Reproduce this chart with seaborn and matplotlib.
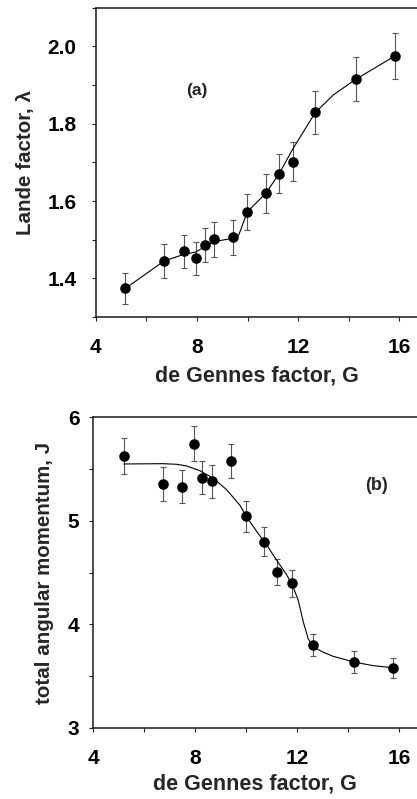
import matplotlib
matplotlib.use("Agg")
import matplotlib.pyplot as plt
import seaborn as sns
import numpy as np
import pandas as pd
from matplotlib.ticker import MultipleLocator

# ---- panel (a) data ----
G_a = [5.17, 6.70, 7.48, 7.95, 8.31, 8.69, 9.44, 9.99, 10.72, 11.25, 11.80, 12.68, 14.28, 15.82]
lam = [1.374, 1.445, 1.470, 1.452, 1.487, 1.501, 1.506, 1.572, 1.620, 1.671, 1.702, 1.829, 1.915, 1.975]
lam_err = [0.041, 0.043, 0.043, 0.043, 0.044, 0.045, 0.045, 0.046, 0.050, 0.050, 0.050, 0.055, 0.057, 0.060]
# guide line (a)
Gline_a = [5.17, 6.70, 7.48, 7.95, 8.31, 8.69, 9.44, 9.65, 9.99, 10.72, 11.25, 11.80, 12.68, 13.40, 14.28, 15.82]
lamline = [1.374, 1.445, 1.462, 1.468, 1.482, 1.495, 1.504, 1.512, 1.572, 1.620, 1.671, 1.736, 1.829, 1.875, 1.915, 1.975]

# ---- panel (b) data ----
G_b = [5.20, 6.73, 7.49, 7.95, 8.26, 8.65, 9.40, 9.99, 10.71, 11.19, 11.78, 12.63, 14.22, 15.75]
J = [5.626, 5.352, 5.330, 5.745, 5.417, 5.384, 5.578, 5.046, 4.798, 4.505, 4.398, 3.799, 3.635, 3.577]
J_err = [0.17, 0.165, 0.16, 0.17, 0.16, 0.16, 0.167, 0.15, 0.14, 0.13, 0.13, 0.11, 0.11, 0.10]
# fitted curve (b)
Gline_b = [5.20, 6.73, 7.27, 7.66, 8.18, 8.71, 9.23, 9.75, 9.99, 10.40, 10.80, 11.19, 11.58, 11.84,
           12.04, 12.24, 12.43, 12.63, 13.02, 13.41, 14.22, 14.98, 15.75]
Jline = [5.549, 5.552, 5.546, 5.530, 5.484, 5.410, 5.300, 5.150, 5.046, 4.900, 4.766, 4.620, 4.480, 4.360,
         4.230, 4.020, 3.860, 3.780, 3.730, 3.690, 3.635, 3.600, 3.580]

sns.set_style("ticks")
plt.rcParams['font.family'] = ['Liberation Sans', 'DejaVu Sans']
plt.rcParams['font.weight'] = 'bold'

fig = plt.figure(figsize=(4.17, 7.99), dpi=100)
ax1 = fig.add_axes([0.230, 0.6033, 0.770, 0.3870])
ax2 = fig.add_axes([0.224, 0.0892, 0.776, 0.3885])

def style(ax, ypad):
    for s in ['left', 'bottom', 'top']:
        ax.spines[s].set_visible(True)
        ax.spines[s].set_linewidth(1.1)
        ax.spines[s].set_color('#1a1a1a')
        ax.spines[s].set_zorder(10)
    ax.spines['right'].set_visible(False)
    ax.set_xlim(4, 16.7)
    ax.xaxis.set_major_locator(MultipleLocator(4))
    ax.xaxis.set_minor_locator(MultipleLocator(2))
    ax.tick_params(which='both', direction='out', length=3, width=0.8, colors='#222222',
                   labelsize=15, labelcolor='black', top=False, right=False)
    ax.tick_params(axis='x', which='major', pad=12)
    ax.tick_params(axis='y', which='major', pad=ypad)
    for lab in ax.get_xticklabels() + ax.get_yticklabels():
        lab.set_fontweight('bold')

# panel (a)
ax1.errorbar(G_a, lam, yerr=lam_err, fmt='none', ecolor='#555555', elinewidth=0.8, capsize=2.2, capthick=0.8)
sns.lineplot(x=Gline_a, y=lamline, ax=ax1, color='black', linewidth=0.8, sort=False)
sns.scatterplot(x=G_a, y=lam, ax=ax1, color='black', s=58, edgecolor='black', linewidth=0, zorder=5)
ax1.yaxis.set_major_locator(MultipleLocator(0.2))
ax1.yaxis.set_minor_locator(MultipleLocator(0.1))
ax1.set_ylim(1.3, 2.1)
ax1.yaxis.set_major_formatter(matplotlib.ticker.FormatStrFormatter('%.1f'))
style(ax1, 11)
ax1.set_xlabel('de Gennes factor, G', fontsize=15.5, fontweight='bold', labelpad=6)
ax1.set_ylabel('Lande factor, λ', fontsize=14.8, fontweight='bold', labelpad=9)
ax1.text(8.0, 1.886, '(a)', fontsize=12.5, fontweight='bold', ha='center', va='center')

# panel (b)
ax2.errorbar(G_b, J, yerr=J_err, fmt='none', ecolor='#555555', elinewidth=0.8, capsize=2.2, capthick=0.8)
sns.lineplot(x=Gline_b, y=Jline, ax=ax2, color='black', linewidth=0.8, sort=False)
sns.scatterplot(x=G_b, y=J, ax=ax2, color='black', s=58, edgecolor='black', linewidth=0, zorder=5)
ax2.set_ylim(3, 6)
ax2.yaxis.set_major_locator(MultipleLocator(1))
ax2.yaxis.set_minor_locator(MultipleLocator(0.5))
style(ax2, 7)
ax2.set_xlabel('de Gennes factor, G', fontsize=15.5, fontweight='bold', labelpad=4)
ax2.set_ylabel('total angular momentum, J', fontsize=14.8, fontweight='bold', labelpad=10)
ax2.text(15.1, 5.345, '(b)', fontsize=13, fontweight='bold', ha='center', va='center')

fig.savefig('out.png', dpi=100)
